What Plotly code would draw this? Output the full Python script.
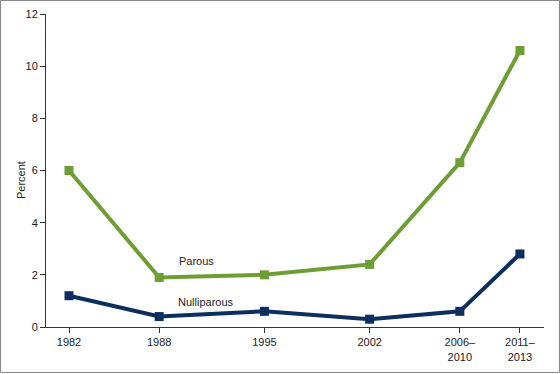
import plotly.graph_objects as go

years = [1982, 1988, 1995, 2002, 2008, 2012]
tick_labels = ["1982", "1988", "1995", "2002", "2006–<br>2010", "2011–<br>2013"]
parous = [6.0, 1.9, 2.0, 2.4, 6.3, 10.6]
nulliparous = [1.2, 0.4, 0.6, 0.3, 0.6, 2.8]

GREEN = "#6d9e34"
NAVY = "#0c2f5f"

fig = go.Figure()
fig.add_trace(go.Scatter(x=years, y=parous, mode="lines+markers", name="Parous",
                         line=dict(color=GREEN, width=4),
                         marker=dict(symbol="square", size=9, color=GREEN)))
fig.add_trace(go.Scatter(x=years, y=nulliparous, mode="lines+markers", name="Nulliparous",
                         line=dict(color=NAVY, width=4),
                         marker=dict(symbol="square", size=9, color=NAVY)))

fig.add_annotation(x=1990.5, y=2.53, text="Parous", showarrow=False,
                   font=dict(size=11, color="#222"))
fig.add_annotation(x=1991.1, y=0.96, text="Nulliparous", showarrow=False,
                   font=dict(size=11, color="#222"))

# y-axis title as rotated annotation
fig.add_annotation(xref="paper", yref="paper", x=(21 - 46) / 498, y=(327 - 180) / 313,
                   xanchor="center", yanchor="middle",
                   text="Percent", textangle=-90, showarrow=False,
                   font=dict(size=11, color="#222"))

# outer border (plot area: x 46..544, y 14..327)
fig.add_shape(type="rect", xref="paper", yref="paper",
              x0=(0.5 - 46) / 498, x1=(559.5 - 46) / 498,
              y0=(327 - 372.5) / 313, y1=(327 - 0.5) / 313,
              line=dict(color="#888", width=1), layer="below")

fig.update_layout(
    width=560, height=374,
    margin=dict(l=46, r=16, t=14, b=47),
    paper_bgcolor="white", plot_bgcolor="white",
    showlegend=False,
    font=dict(family="Liberation Sans, Arial", size=11, color="#222"),
)
fig.update_xaxes(range=[1980.47, 2013.6], tickvals=years, ticktext=tick_labels,
                 automargin=False,
                 showgrid=False, zeroline=False, showline=True, linecolor="#333",
                 linewidth=1, ticks="outside", ticklen=5, tickcolor="#333")
fig.update_yaxes(range=[0, 12], dtick=2, showgrid=False, zeroline=False,
                 automargin=False,
                 showline=True, linecolor="#333", linewidth=1,
                 ticks="outside", ticklen=5, tickcolor="#333")

fig.write_html("out.html", config={"displayModeBar": False},
               post_script="document.body.style.margin='0';document.body.style.overflow='hidden';")
